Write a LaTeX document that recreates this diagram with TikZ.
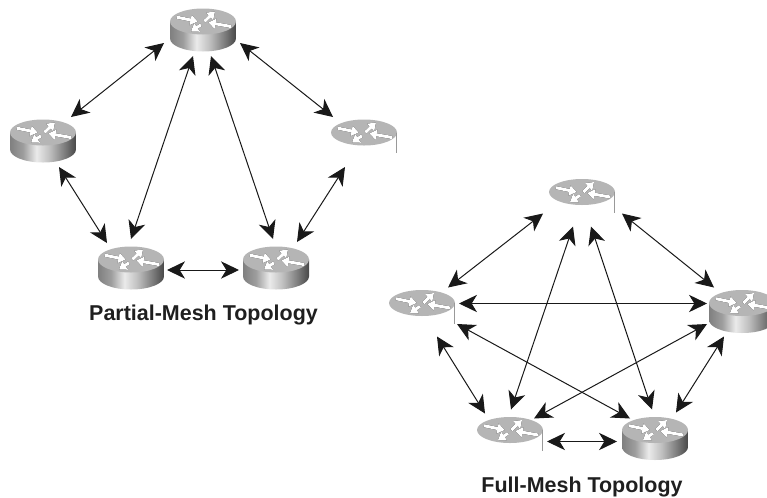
\documentclass[tikz,border=0pt]{standalone}
\usepackage{fontspec}
\setmainfont{Liberation Sans}
\usetikzlibrary{arrows.meta}
\pgfdeclarehorizontalshading{routershade}{100bp}{
  color(0bp)=(black!50); color(25bp)=(black!50); color(35bp)=(black!38);
  color(45bp)=(black!8); color(55bp)=(black!25); color(68bp)=(black!55);
  color(75bp)=(black!72); color(100bp)=(black!72)}
\tikzstyle{link} = [line width=0.75pt,black!90,{Stealth[length=13.5pt,width=13pt,inset=4pt]}-{Stealth[length=13.5pt,width=13pt,inset=4pt]}]
\tikzstyle{glyph} = [-{Triangle[length=5.5pt,width=7.5pt]},line width=2.3pt]
\tikzstyle{caption} = [font=\bfseries\fontsize{16.1}{19}\selectfont,text=black!88]
\newcommand{\routerface}{
  \fill[black!29] (0,-8.5) ellipse [x radius=24.75pt,y radius=9.75pt];
  \begin{scope}[shift={(0.3,0.6)}]
    \draw[glyph,black] (-26,-12.8) -- (-5.3,-8.5);
    \draw[glyph,black] (1.3,-8.5) -- (12,-18.5);
    \draw[glyph,black] (28,-3.5) -- (5.3,-7.5);
    \draw[glyph,black] (-2,-5.2) -- (-12,1.5);
  \end{scope}
  \draw[glyph,white] (-26,-12.8) -- (-5.3,-8.5);
  \draw[glyph,white] (1.3,-8.5) -- (12,-18.5);
  \draw[glyph,white] (28,-3.5) -- (5.3,-7.5);
  \draw[glyph,white] (-2,-5.2) -- (-12,1.5);
}
\tikzset{
  router/.style={rectangle,inner sep=0pt,minimum width=49.5pt,minimum height=32.25pt,
    path picture={
      \begin{scope}[shift={(path picture bounding box.center)}]
        \shade[shading=routershade] (-33,-8.5) -- (-33,8.5) arc (180:360:24.75pt and 9.75pt) -- (33,-8.5) -- cycle;
        \routerface
      \end{scope}
    }},
  flatrouter/.style={rectangle,inner sep=0pt,minimum width=49.5pt,minimum height=32.25pt,
    path picture={
      \begin{scope}[shift={(path picture bounding box.center)}]
        \routerface
        \draw[black!40,line width=0.4pt] (32.7,-8.5) -- (32.7,12);
      \end{scope}
    }}
}
\begin{document}
\begin{tikzpicture}[x=0.75pt,y=-0.75pt]
  \useasboundingbox (0,0) rectangle (767,497);

  % Partial mesh
  \node[router] (ptop) at (203,30) {};
  \node[router] (pleft) at (43,141) {};
  \node[flatrouter] (pright) at (364,141) {};
  \node[router] (pbl) at (131,268) {};
  \node[router] (pbr) at (276,268) {};
  \node[caption] (plabel) at (203.5,315) {Partial-Mesh Topology};

  \draw[link] ([shift={(-39,13)}]ptop.center) -- ([shift={(28,-24)}]pleft.center);
  \draw[link] ([shift={(-10,26)}]ptop.center) -- ([shift={(0,-29)}]pbl.center);
  \draw[link] ([shift={(8,26)}]ptop.center) -- ([shift={(-3,-29)}]pbr.center);
  \draw[link] ([shift={(37,13)}]ptop.center) -- ([shift={(-31,-24)}]pright.center);
  \draw[link] ([shift={(16,26)}]pleft.center) -- ([shift={(-24,-25)}]pbl.center);
  \draw[link] ([shift={(-19,26)}]pright.center) -- ([shift={(21,-26)}]pbr.center);
  \draw[link] ([shift={(36,2)}]pbl.center) -- ([shift={(-37,2)}]pbr.center);

  % Full mesh
  \node[flatrouter] (ftop) at (582,200.5) {};
  \node[flatrouter] (fleft) at (422,311.5) {};
  \node[router] (fright) at (742,311.5) {};
  \node[flatrouter] (fbl) at (510,438.5) {};
  \node[router] (fbr) at (655,438.5) {};
  \node[caption] (flabel) at (582,487) {Full-Mesh Topology};

  \draw[link] ([shift={(-39,13)}]ftop.center) -- ([shift={(26,-24)}]fleft.center);
  \draw[link] ([shift={(-9,26)}]ftop.center) -- ([shift={(1,-29)}]fbl.center);
  \draw[link] ([shift={(9,26)}]ftop.center) -- ([shift={(-3,-29)}]fbr.center);
  \draw[link] ([shift={(40,13)}]ftop.center) -- ([shift={(-28,-24)}]fright.center);
  \draw[link] ([shift={(37,-8)}]fleft.center) -- ([shift={(-35,-8)}]fright.center);
  \draw[link] ([shift={(15,25)}]fleft.center) -- ([shift={(-25,-25)}]fbl.center);
  \draw[link] ([shift={(35,12.5)}]fleft.center) -- ([shift={(-25,-20)}]fbr.center);
  \draw[link] ([shift={(-35,12.5)}]fright.center) -- ([shift={(24,-20)}]fbl.center);
  \draw[link] ([shift={(-18,25)}]fright.center) -- ([shift={(21,-26)}]fbr.center);
  \draw[link] ([shift={(37,3)}]fbl.center) -- ([shift={(-38,3)}]fbr.center);
\end{tikzpicture}
\end{document}
